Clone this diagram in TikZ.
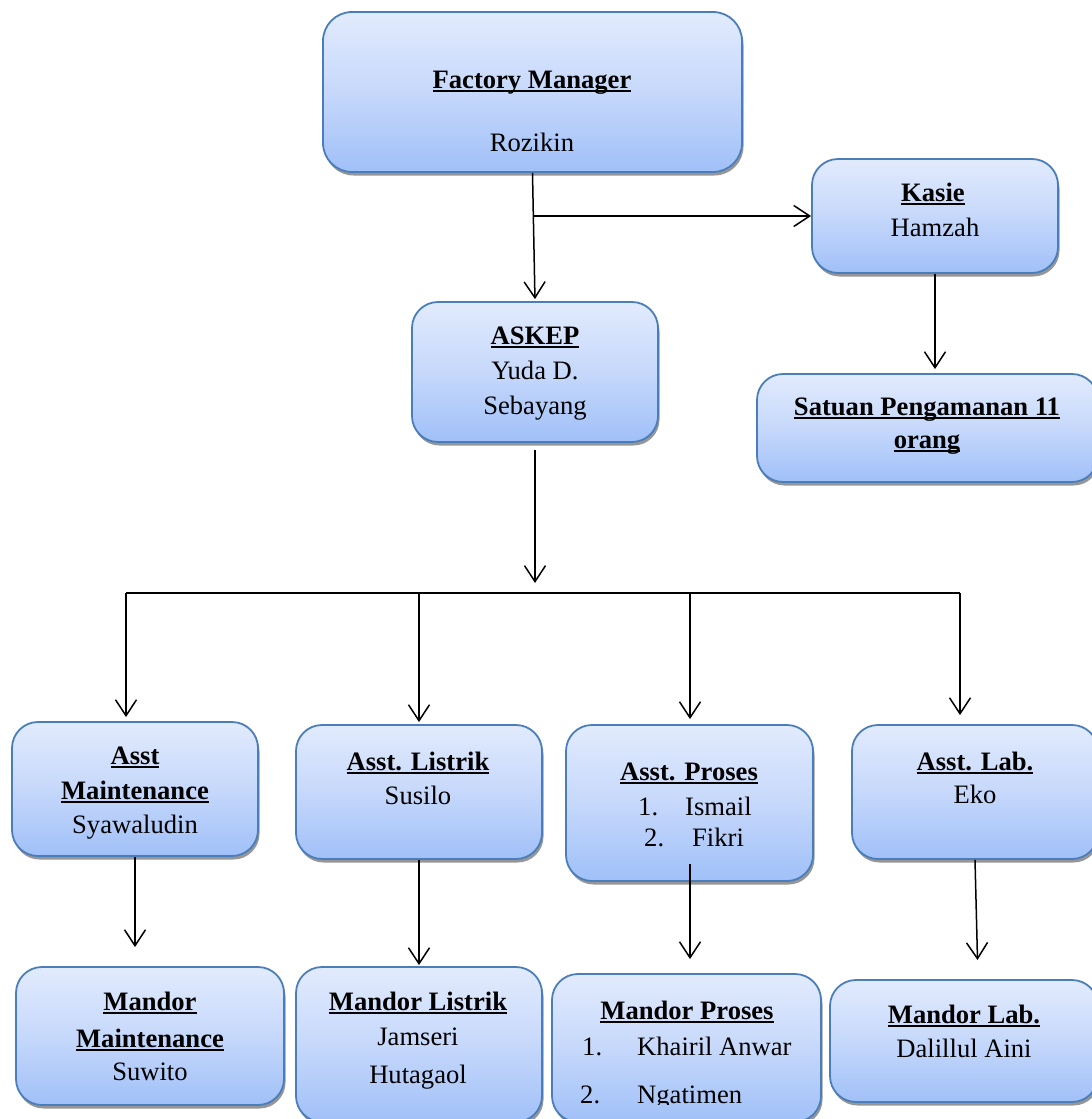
\documentclass[tikz,border=0pt]{standalone}
\usepackage{fontspec}
\setmainfont{Liberation Serif}
\usetikzlibrary{arrows.meta,shadows,calc}
\definecolor{boxline}{RGB}{74,126,187}
\definecolor{gtop}{RGB}{226,235,253}
\definecolor{gmid}{RGB}{198,216,251}
\definecolor{gbot}{RGB}{160,192,248}
\definecolor{shad}{RGB}{150,150,150}
\newsavebox\ulbox
\newcommand\uln[1]{\sbox\ulbox{#1}\rlap{\rule[-0.15em]{\wd\ulbox}{0.085em}}\usebox\ulbox}
\newcommand\hd[1]{\uln{\textbf{#1}}}
\begin{document}
\begin{tikzpicture}[x=1pt,y=-1pt,
  box/.style={draw=boxline, line width=1.8pt, rounded corners=26pt,
    top color=gtop, bottom color=gbot, middle color=gmid, inner sep=0pt,
    drop shadow={shadow xshift=1.5pt, shadow yshift=-3.5pt, fill=shad, opacity=1}},
  arr/.style={draw=black, line width=1.5pt,
    -{Straight Barb[length=16pt,width=21pt,line width=1.5pt]}},
  busline/.style={draw=black, line width=2pt},
  lbl/.style={anchor=base, inner sep=0pt, font=\fontsize{26.6pt}{32pt}\selectfont},
  lblw/.style={lbl, anchor=base west}]
\useasboundingbox (0,0) rectangle (1092,1119);
\clip (0,0) rectangle (1092,1119);

% boxes
\node[box, rounded corners=29pt, minimum width=419pt, minimum height=160pt] (fm) at (532.5,92) {};
\node[box, minimum width=246pt, minimum height=114pt] (kasie) at (935,216) {};
\node[box, minimum width=246pt, minimum height=140pt] (askep) at (535,372) {};
\node[box, minimum width=341pt, minimum height=108pt] (satuan) at (927.5,428) {};
\node[box, minimum width=246pt, minimum height=134pt] (am) at (135,789) {};
\node[box, minimum width=246pt, minimum height=134pt] (al) at (419,792) {};
\node[box, minimum width=247pt, minimum height=156pt] (ap) at (689.5,803) {};
\node[box, minimum width=246pt, minimum height=134pt] (alab) at (975,792) {};
\node[box, minimum width=268pt, minimum height=138pt] (mm) at (150,1036) {};
\node[box, minimum width=246pt, minimum height=155pt] (ml) at (419,1044.5) {};
\node[box, minimum width=269pt, minimum height=148pt] (mp) at (686.5,1048) {};
\node[box, minimum width=268pt, minimum height=122pt] (mlab) at (964,1041) {};

% texts
\node[lbl] (t1) at (532,88) {\hd{Factory Manager}};
\node[lbl] (t2) at (532,151) {Rozikin};
\node[lbl] (t3) at (933,201) {\hd{Kasie}};
\node[lbl] (t4) at (935,236) {Hamzah};
\node[lbl] (t5) at (535,344) {\hd{ASKEP}};
\node[lbl] (t6) at (535,379) {Yuda D.};
\node[lbl] (t7) at (535,414) {Sebayang};
\node[lbl] (t8) at (927,415) {\hd{Satuan Pengamanan 11}};
\node[lbl] (t9) at (927,448) {\hd{orang}};
\node[lbl] (t10) at (135,764) {\hd{Asst}};
\node[lbl] (t11) at (135,799) {\hd{Maintenance}};
\node[lbl] (t12) at (135,833) {Syawaludin};
\node[lbl] (t13) at (418,770) {\hd{Asst. Listrik}};
\node[lbl] (t14) at (418,804) {Susilo};
\node[lbl] (t15) at (689,780) {\hd{Asst. Proses}};
\node[lblw] (t16) at (638,815) {1.};
\node[lblw] (t17) at (685,815) {Ismail};
\node[lblw] (t18) at (644,846) {2.};
\node[lblw] (t19) at (692,846) {Fikri};
\node[lbl] (t20) at (975,770) {\hd{Asst. Lab.}};
\node[lbl] (t21) at (975,803) {Eko};
\node[lbl] (t22) at (150,1010) {\hd{Mandor}};
\node[lbl] (t23) at (150,1047) {\hd{Maintenance}};
\node[lbl] (t24) at (150,1080) {Suwito};
\node[lbl] (t25) at (418,1010) {\hd{Mandor Listrik}};
\node[lbl] (t26) at (418,1045) {Jamseri};
\node[lbl] (t27) at (418,1083) {Hutagaol};
\node[lbl] (t28) at (687,1019) {\hd{Mandor Proses}};
\node[lblw] (t29) at (582,1055) {1.};
\node[lblw] (t30) at (637,1055) {Khairil Anwar};
\begin{scope}
  \clip (552,1070) rectangle (821,1104.5);
  \node[lblw] (t31) at (580,1103) {2.};
  \node[lblw] (t32) at (637,1103) {Ngatimen};
\end{scope}
\node[lbl] (t33) at (964,1023) {\hd{Mandor Lab.}};
\node[lbl] (t34) at (964,1057) {Dalillul Aini};

% connector points
\coordinate (j1) at (533.8,216);
\coordinate (bus) at (535,593);
\coordinate (bL) at (126,593);
\coordinate (bR) at (960,593);
\coordinate (d2) at (419,593);
\coordinate (d3) at (690,593);
\coordinate (s3) at (690,864);
\coordinate (e4) at (978,980);

% connectors
\draw[arr, shorten >=2pt] (fm.south) -- (askep.north);
\draw[arr] (j1) -- (kasie.west);
\draw[arr, shorten >=4pt] (kasie.south) -- (kasie.south |- satuan.north);
\draw[arr, shorten <=7pt, shorten >=10pt] (askep.south) -- (bus);
\draw[busline] (bL) -- (bR);
\draw[arr, shorten >=4pt] (bL) -- (bL |- am.north);
\draw[arr, shorten >=2pt] (d2) -- (d2 |- al.north);
\draw[arr, shorten >=5pt] (d3) -- (d3 |- ap.north);
\draw[arr, shorten >=9pt] (bR) -- (bR |- alab.north);
\draw[arr, shorten >=19pt] (am.south) -- (am.south |- mm.north);
\draw[arr, shorten >=1pt] (al.south) -- (al.south |- ml.north);
\draw[arr, shorten >=14pt] (s3) -- (s3 |- mp.north);
\draw[arr, shorten >=20pt] (alab.south) -- (e4);
\end{tikzpicture}
\end{document}
